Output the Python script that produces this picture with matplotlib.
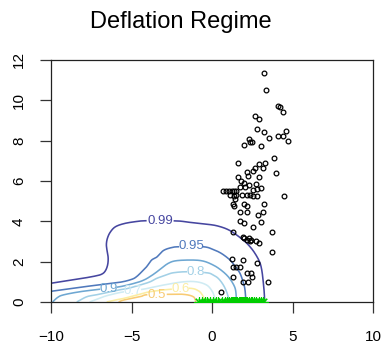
import numpy as np
import matplotlib
matplotlib.use("Agg")
import matplotlib.pyplot as plt

plt.rcParams["font.family"] = ["Liberation Sans", "DejaVu Sans"]

# Observations (inflation expectation vs. rate)
obs_x = [3.23, 3.37, 4.10, 4.24, 4.39, 2.69, 2.92, 2.80, 3.21, 4.60, 3.56, 4.12, 4.39, 4.70,
         2.32, 2.36, 2.48, 1.97, 3.02, 3.87, 1.61, 2.92, 3.29, 2.67, 3.15, 2.16, 2.57, 3.98,
         2.25, 1.63, 2.92, 1.78, 1.99, 2.32, 2.71, 3.06, 2.78, 2.53, 2.07, 1.72, 0.70, 0.89,
         1.06, 1.22, 1.39, 1.49, 1.14, 1.37, 1.49, 1.86, 2.16, 2.36, 2.53, 2.81, 4.49, 1.43,
         1.29, 1.39, 2.01, 2.16, 3.23, 1.76, 2.16, 2.84, 3.17, 1.72, 1.99, 3.02, 2.55, 1.32,
         3.75, 1.93, 2.01, 2.19, 2.34, 2.28, 2.40, 2.71, 2.94, 3.73, 1.24, 1.94, 2.80, 1.30,
         1.49, 1.76, 2.19, 2.44, 2.48, 1.29, 1.91, 2.22, 3.48, 0.58]
obs_y = [11.35, 10.53, 9.72, 9.67, 9.42, 9.24, 9.06, 8.58, 8.44, 8.46, 8.13, 8.22, 8.22, 7.97,
         8.10, 7.93, 7.92, 7.80, 7.72, 7.12, 6.89, 6.83, 6.89, 6.66, 6.64, 6.46, 6.49, 6.41,
         6.26, 6.20, 6.20, 6.00, 5.91, 5.80, 5.84, 5.65, 5.62, 5.57, 5.72, 5.69, 5.49, 5.49,
         5.50, 5.49, 5.50, 5.52, 5.29, 5.26, 5.32, 5.29, 5.29, 5.32, 5.26, 5.27, 5.26, 5.09,
         4.86, 4.76, 4.84, 4.76, 4.87, 4.48, 4.46, 4.33, 4.45, 4.00, 3.93, 3.95, 3.73, 3.47,
         3.46, 3.24, 3.16, 3.07, 3.02, 3.16, 3.06, 3.02, 2.94, 2.48, 2.12, 2.08, 1.93, 1.72,
         1.74, 1.72, 1.42, 1.42, 1.22, 1.22, 0.99, 0.99, 0.99, 0.50]

# Deflation episodes, marked along the horizontal axis
defl_x = [-0.80, -0.62, -0.45, -0.30, -0.12, 0.05, 0.25, 0.40, 0.65, 0.80, 0.95, 1.05, 1.15,
          1.22, 1.30, 1.36, 1.45, 1.52, 1.58, 1.65, 1.72, 1.78, 1.85, 1.92, 1.98, 2.05, 2.12,
          2.20, 2.30, 2.40, 2.50, 2.62, 2.75, 2.90, 3.05, 3.18]

# Probability contour levels and their traced paths
levels = ["0.5", "0.6", "0.7", "0.8", "0.9", "0.95", "0.99"]
colors = ["#F8CB74", "#FBEDA2", "#CFEBF3", "#A2D0E6", "#6EA7D2", "#5079BC", "#4646A0"]

c50_x = [-5.8, -5.47, -4.47, -4.05, -2.81, -1.78, -1.16, -1.0]
c50_y = [0.0, 0.10, 0.26, 0.36, 0.38, 0.38, 0.26, 0.0]
c60_x = [-6.54, -6.0, -5.47, -4.5, -3.85, -2.6, -1.37, -0.85, -0.6, -0.5, -0.45]
c60_y = [0.0, 0.10, 0.18, 0.38, 0.51, 0.63, 0.68, 0.56, 0.35, 0.15, 0.0]
c70_x = [-7.6, -6.75, -6.0, -5.5, -4.3, -3.02, -1.78, -0.95, -0.33, 0.0, 0.15, 0.19]
c70_y = [0.0, 0.26, 0.42, 0.50, 0.63, 0.84, 1.00, 1.00, 0.84, 0.55, 0.25, 0.0]
c80_x = [-8.4, -7.78, -7.16, -5.92, -5.3, -4.47, -3.85, -3.44, -2.81, -2.40, -1.55, -0.33,
         0.05, 0.39, 0.70, 0.91, 1.02, 1.05]
c80_y = [0.0, 0.26, 0.36, 0.58, 0.66, 0.84, 1.00, 1.17, 1.35, 1.45, 1.50, 1.45, 1.35, 1.17,
         0.85, 0.50, 0.20, 0.0]
c90_x = [-9.9, -9.6, -9.24, -8.2, -7.0, -5.71, -4.68, -4.2, -3.85, -3.5, -3.23, -2.71, -2.19,
         -1.16, -0.5, 0.08, 0.5, 0.91, 1.2, 1.43, 1.50, 1.52]
c90_y = [0.0, 0.22, 0.35, 0.51, 0.63, 0.76, 0.96, 1.10, 1.26, 1.45, 1.62, 1.92, 2.05, 2.08,
         2.02, 1.83, 1.62, 1.34, 1.05, 0.70, 0.35, 0.0]
c95_x = [-10.0, -8.2, -7.0, -5.71, -5.0, -4.68, -4.3, -4.06, -3.75, -3.44, -3.02, -2.5, -2.0,
         -0.54, 0.08, 0.6, 1.12, 1.45, 1.74, 1.95, 2.05, 2.11]
c95_y = [0.53, 0.73, 0.85, 0.98, 1.12, 1.26, 1.55, 1.75, 2.08, 2.22, 2.55, 2.70, 2.74, 2.74,
         2.60, 2.40, 2.08, 1.75, 1.42, 0.95, 0.60, 0.0]
c99_x = [-10.0, -8.3, -7.3, -6.85, -6.62, -6.48, -6.45, -6.52, -6.56, -6.50, -6.33, -6.02,
         -5.5, -4.8, -4.06, -2.2, -1.5, -0.6, 0.3, 1.12, 1.94, 2.35, 2.67, 2.95, 3.09, 3.19,
         3.25, 3.26]
c99_y = [0.93, 1.14, 1.28, 1.38, 1.55, 1.85, 2.20, 2.55, 2.85, 3.15, 3.45, 3.72, 3.88, 3.98,
         4.03, 4.02, 3.96, 3.88, 3.78, 3.54, 3.07, 2.75, 2.41, 2.00, 1.59, 0.95, 0.40, 0.0]

paths_x = [c50_x, c60_x, c70_x, c80_x, c90_x, c95_x, c99_x]
paths_y = [c50_y, c60_y, c70_y, c80_y, c90_y, c95_y, c99_y]

# Inline label placement: (x, y) of label centre and half-width of the gap
label_x = [-3.43, -1.95, -4.93, -1.02, -6.43, -1.31, -3.21]
label_y = [0.36, 0.66, 0.57, 1.50, 0.66, 2.76, 4.02]
label_hw = [0.58, 0.50, 0.50, 0.50, 0.50, 0.72, 0.80]


def smooth_path(xs, ys, n=24):
    """Centripetal-free Catmull-Rom curve through the traced vertices."""
    p = np.column_stack([xs, ys]).astype(float)
    p = np.vstack([2 * p[0] - p[1], p, 2 * p[-1] - p[-2]])
    out = []
    s = np.linspace(0, 1, n, endpoint=False)[:, None]
    for i in range(1, len(p) - 2):
        p0, p1, p2, p3 = p[i - 1], p[i], p[i + 1], p[i + 2]
        seg = 0.5 * ((2 * p1) + (-p0 + p2) * s + (2 * p0 - 5 * p1 + 4 * p2 - p3) * s ** 2
                     + (-p0 + 3 * p1 - 3 * p2 + p3) * s ** 3)
        out.append(seg)
    out.append(p[-2][None, :])
    out = np.vstack(out)
    return out[:, 0], out[:, 1]


fig = plt.figure(figsize=(3.86, 3.46), dpi=100)
ax = fig.add_axes([51 / 386, 44 / 346, 322 / 386, 242 / 346])

for px, py, col, lab, lx, ly, hw in zip(paths_x, paths_y, colors, levels,
                                        label_x, label_y, label_hw):
    dx, dy = smooth_path(px, py)
    gap = (dx > lx - hw) & (dx < lx + hw) & (np.abs(dy - ly) < 0.6)
    dy = np.where(gap, np.nan, dy)
    ax.plot(dx, dy, color=col, lw=1.15, solid_capstyle="butt", zorder=2)
    ax.text(lx, ly, lab, color=col, fontsize=9.5, ha="center", va="center", zorder=3)

ax.plot(defl_x, np.zeros(len(defl_x)), linestyle="none", marker=(8, 2, 0),
        markersize=7.5, markeredgewidth=0.8, color="#00CD00", zorder=4)

ax.plot(obs_x, obs_y, linestyle="none", marker="o", markersize=3.4,
        markerfacecolor="none", markeredgecolor="black", markeredgewidth=0.9, zorder=5)

ax.set_xlim(-10, 10)
ax.set_ylim(0, 12)
ax.set_xticks([-10, -5, 0, 5, 10])
ax.set_yticks([0, 2, 4, 6, 8, 10, 12])
ax.tick_params(axis="both", direction="out", length=8, width=0.9, labelsize=11,
               color="#333333")
ax.tick_params(axis="x", pad=12)
ax.tick_params(axis="y", pad=10)
for lbl in ax.get_yticklabels():
    lbl.set_rotation(90)
    lbl.set_va("center")
for s in ax.spines.values():
    s.set_linewidth(0.9)
    s.set_color("#222222")

fig.text(181 / 386, 1 - 22 / 346, "Deflation Regime", ha="center", va="center", fontsize=17)

fig.savefig("out.png", dpi=100)
